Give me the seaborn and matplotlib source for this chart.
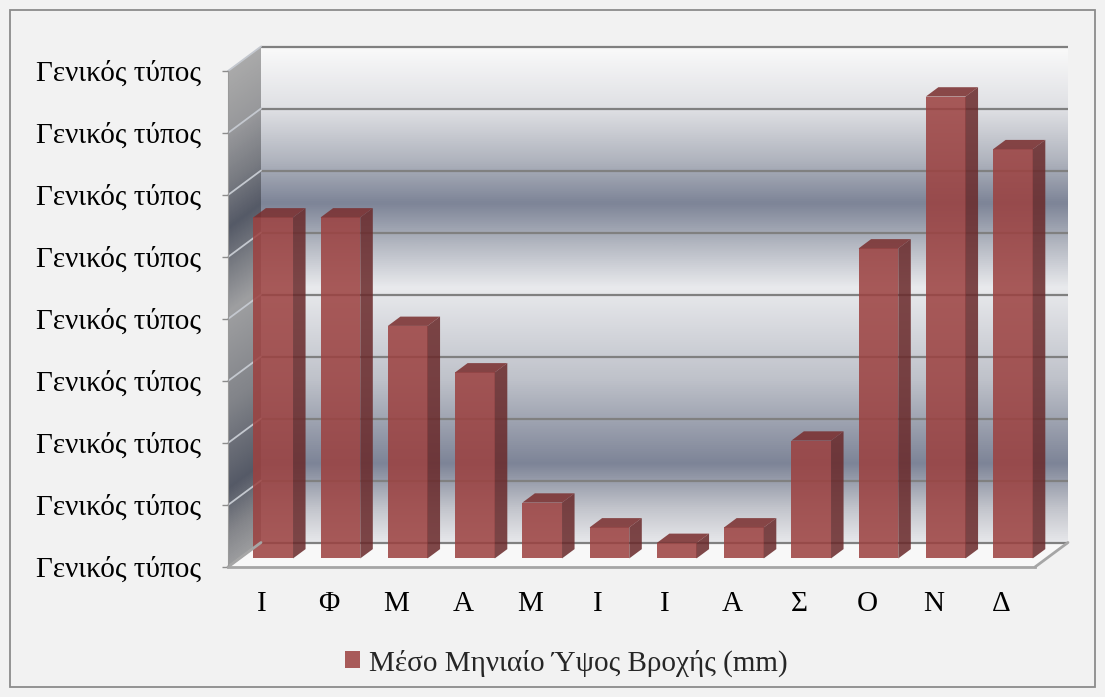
import numpy as np
import pandas as pd
import matplotlib
matplotlib.use("Agg")
import matplotlib.pyplot as plt
from matplotlib.colors import LinearSegmentedColormap
from matplotlib.patches import Polygon, Rectangle
from matplotlib.lines import Line2D
from matplotlib.transforms import IdentityTransform
import seaborn as sns

# ---- data -------------------------------------------------------------
months = ["Ι", "Φ", "Μ", "Α", "Μ", "Ι", "Ι", "Α", "Σ", "Ο", "Ν", "Δ"]
rainfall_mm = [110, 110, 75, 60, 18, 10, 5, 10, 38, 100, 149, 132]
y_ticks = [0, 20, 40, 60, 80, 100, 120, 140, 160]
y_tick_labels = ["Γενικός τύπος"] * len(y_ticks)
series_label = "Μέσο Μηνιαίο Ύψος Βροχής (mm)"

# ---- figure -----------------------------------------------------------
W, H, DPI = 1105, 697, 100
sns.set_theme(style="white")
plt.rcParams["font.family"] = ["Liberation Serif", "DejaVu Serif"]
FS = 21

fig = plt.figure(figsize=(W / DPI, H / DPI), dpi=DPI, facecolor="#f2f2f2")


def to_fig(x, y):
    """pixel coords measured from the top-left -> figure fraction"""
    return (x / W, 1 - y / H)


# outer frame
fig.add_artist(Rectangle(to_fig(10, 687), 1085 / W, 677 / H, transform=fig.transFigure,
                         fill=False, edgecolor="#8c8c8c", lw=1.3, zorder=-2))

# box geometry (pixels)
front_left, front_base = 228, 567
plane_w, plane_h = 807, 496
depth = np.array([33.0, 24.5])
bar_plane = 0.35
bar_depth = 0.38
xlim = (-0.5, len(months) - 0.5)
ylim = (y_ticks[0], y_ticks[-1])


def plane_axes(t, zorder):
    left = front_left + t * depth[0]
    base = front_base - t * depth[1]
    ax = fig.add_axes([left / W, (H - base) / H, plane_w / W, plane_h / H], zorder=zorder)
    ax.set_xlim(*xlim)
    ax.set_ylim(*ylim)
    ax.patch.set_visible(False)
    return ax


# metallic gradient of the walls (position from the top of the wall -> colour)
stops = [(0.0, "#fafafa"), (0.128, "#dedfe3"), (0.229, "#b0b4be"), (0.316, "#7d8497"),
         (0.40, "#b4b8c2"), (0.487, "#e9eaed"), (0.672, "#bfc2ca"), (0.843, "#7d8497"),
         (0.934, "#c3c5cc"), (1.0, "#e6e7ea")]
wall_cmap = LinearSegmentedColormap.from_list("wall", stops)

# ---- back wall --------------------------------------------------------
ax_back = plane_axes(1.0, zorder=0)
grad = np.linspace(0, 1, 512).reshape(-1, 1)
ax_back.imshow(grad, cmap=wall_cmap, aspect="auto", origin="upper",
               extent=(*xlim, *ylim), interpolation="bilinear")
ax_back.hlines(y_ticks, *xlim, colors="#808080", lw=1.6, clip_on=False)
ax_back.set_xlim(*xlim)
ax_back.set_ylim(*ylim)
ax_back.axis("off")

# ---- side wall --------------------------------------------------------
side_top = front_base - plane_h - depth[1]
side_h = front_base - side_top
ax_side = fig.add_axes([front_left / W, (H - front_base) / H, depth[0] / W, side_h / H], zorder=0)
ax_side.axis("off")
cols = np.arange(int(depth[0])) + 0.5
rows = np.arange(int(side_h)) + 0.5
cx, ry = np.meshgrid(cols, rows)
y_back = (side_top + ry) - (depth[0] - cx) * (depth[1] / depth[0])
frac = np.clip((y_back - side_top) / plane_h, 0, 1)
side_rgb = wall_cmap(frac)[..., :3] * 0.68
im = ax_side.imshow(side_rgb, aspect="auto", extent=(0, 1, 0, 1), interpolation="bilinear")
ax_side.set_xlim(0, 1)
ax_side.set_ylim(0, 1)
b_off = depth[1] / side_h
clip_poly = Polygon([(0, 0), (1, b_off), (1, 1), (0, 1 - b_off)], closed=True,
                    transform=ax_side.transAxes, facecolor="none", edgecolor="none")
ax_side.add_patch(clip_poly)
im.set_clip_path(clip_poly)
for v in y_ticks:
    f0 = (plane_h * (v - ylim[0]) / (ylim[1] - ylim[0])) / side_h
    ax_side.plot([0, 1], [f0, f0 + b_off], color="#c4c8cf", lw=1.3,
                 transform=ax_side.transAxes, clip_on=False)

# ---- floor ------------------------------------------------------------
fl = [(front_left, front_base), (front_left + plane_w, front_base),
      (front_left + plane_w + depth[0], front_base - depth[1]),
      (front_left + depth[0], front_base - depth[1])]
fig.add_artist(Polygon([to_fig(*p) for p in fl], closed=True, transform=fig.transFigure,
                       facecolor="#f8f8f8", edgecolor="none", zorder=-1))
for a, b in [(fl[1], fl[2]), (fl[0], fl[3])]:
    fig.add_artist(Line2D([to_fig(*a)[0], to_fig(*b)[0]], [to_fig(*a)[1], to_fig(*b)[1]],
                          transform=fig.transFigure, color="#a6a6a6", lw=2.0, zorder=1.5))

# ---- bars -------------------------------------------------------------
ax_bar = plane_axes(bar_plane, zorder=1)
df = pd.DataFrame({"month": range(len(months)), "rain": rainfall_mm})
front_col, side_col, top_col, alpha = "#9c4140", "#6a2a2b", "#7a2e2e", 0.86
sns.barplot(data=df, x="month", y="rain", color=front_col, saturation=1, alpha=alpha,
            width=0.59, linewidth=0, label=series_label, ax=ax_bar)
ax_bar.set_xlim(*xlim)
ax_bar.set_ylim(*ylim)

bd = depth * bar_depth
for p in list(ax_bar.patches):
    x0, x1 = p.get_x(), p.get_x() + p.get_width()
    h = p.get_height()
    (px0, py0), (px1, py1) = ax_bar.transData.transform([(x0, 0), (x1, h)])
    side = [(px1, py0), (px1, py1), (px1 + bd[0], py1 + bd[1]), (px1 + bd[0], py0 + bd[1])]
    top = [(px0, py1), (px1, py1), (px1 + bd[0], py1 + bd[1]), (px0 + bd[0], py1 + bd[1])]
    for verts, c in [(side, side_col), (top, top_col)]:
        ax_bar.add_patch(Polygon(verts, closed=True, transform=IdentityTransform(),
                                 facecolor=c, edgecolor="none", alpha=alpha, clip_on=False))
ax_bar.axis("off")

ax_bar.legend(loc="center", bbox_to_anchor=to_fig(566, 663), bbox_transform=fig.transFigure,
              frameon=False, fontsize=21, handlelength=0.52, handleheight=0.52,
              handletextpad=0.3)

# ---- front plane: axes, ticks and labels -----------------------------
ax_front = plane_axes(0.0, zorder=2)
ax_front.set_yticks(y_ticks, y_tick_labels)
ax_front.set_xticks(range(len(months)), months)
ax_front.tick_params(axis="y", length=4, width=1, color="#8c8c8c", pad=15.5,
                     labelsize=FS, labelcolor="black", left=True)
ax_front.tick_params(axis="x", length=0, pad=17, labelsize=FS, labelcolor="black")
for s in ["top", "right"]:
    ax_front.spines[s].set_visible(False)
ax_front.spines["bottom"].set_color("#a6a6a6")
ax_front.spines["bottom"].set_linewidth(2.0)
ax_front.spines["left"].set_color("#9a9a9a")
ax_front.spines["left"].set_linewidth(0.8)
ax_front.grid(False)

fig.savefig("out.png", dpi=DPI, facecolor=fig.get_facecolor())
